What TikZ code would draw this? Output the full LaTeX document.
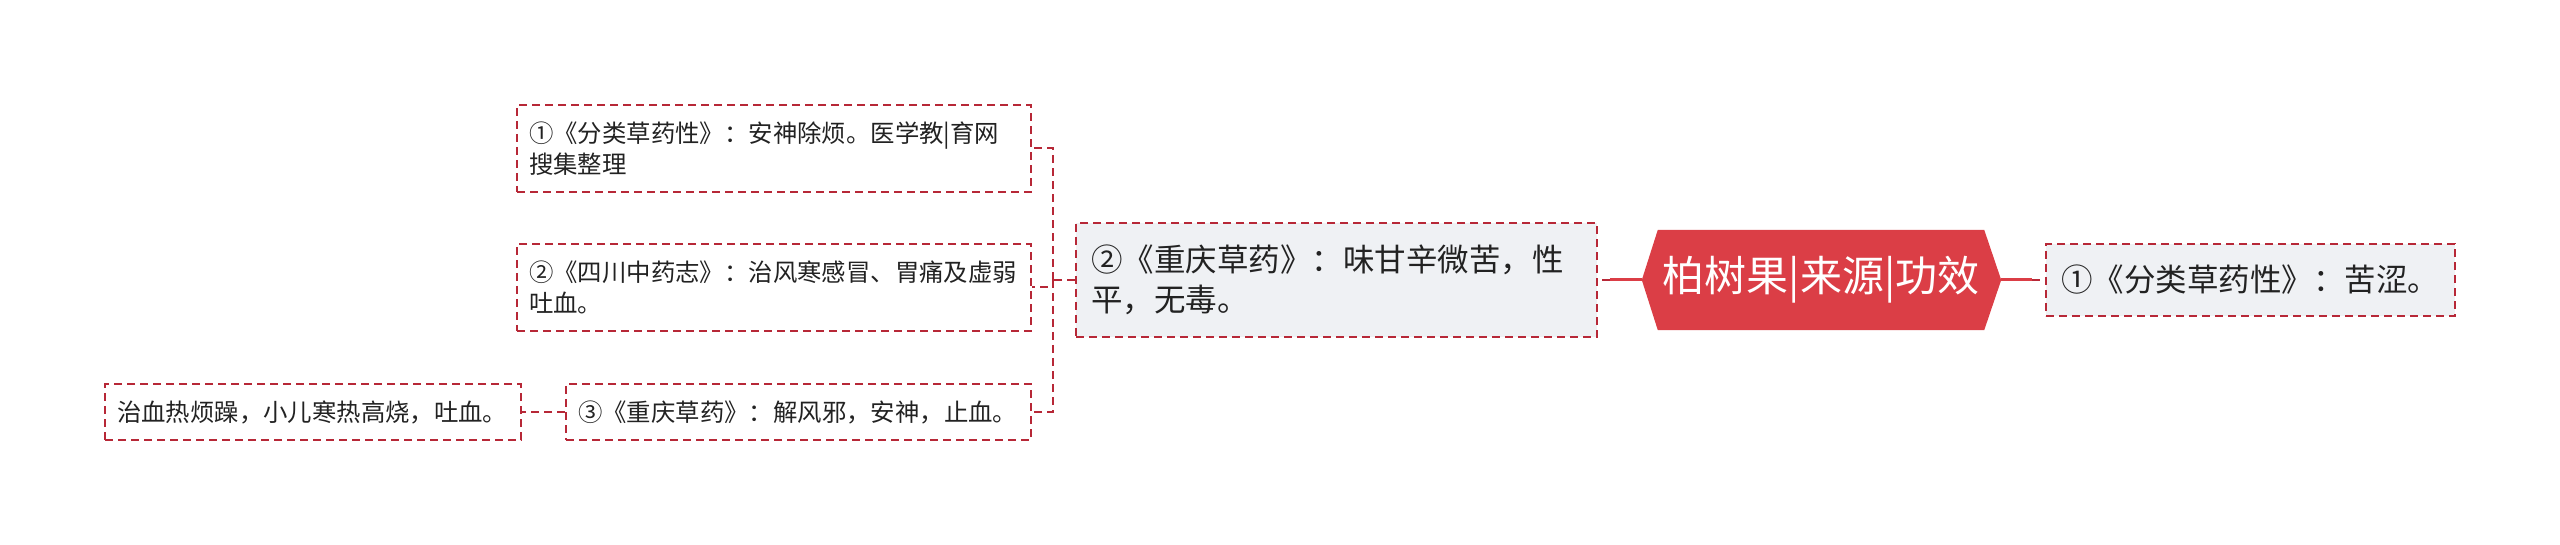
\documentclass[tikz,border=0pt]{standalone}
\usepackage{fontspec}
\usepackage{xcolor}
\usetikzlibrary{backgrounds}
\newfontfamily\cjk{Noto Sans CJK SC}
\definecolor{linered}{RGB}{183,40,55}
\definecolor{rootred}{RGB}{219,62,70}
\definecolor{boxgray}{RGB}{239,241,244}
\definecolor{textdark}{RGB}{34,34,34}

\begin{document}
\begin{tikzpicture}[
    x=1pt, y=-1pt,
    leaf node/.style={draw=linered, line width=2pt, dash pattern=on 8pt off 5pt,
      align=left, inner xsep=12pt, inner ysep=0pt, text=textdark,
      font=\cjk\fontsize{24.4}{31.5}\selectfont},
    mid node/.style={leaf node, fill=boxgray, inner xsep=15pt,
      font=\cjk\fontsize{31.5}{40}\selectfont},
    root node/.style={text=white, inner sep=0pt, minimum width=326pt,
      minimum height=100pt, font=\cjk\fontsize{42}{50}\selectfont},
    sub link/.style={draw=linered, line width=2pt, dash pattern=on 8pt off 5pt},
    root link/.style={draw=rootred, line width=3pt}
  ]
  \useasboundingbox (0,0) rectangle (2560,545);

  % Nodes
  \node[root node] (root) at (1821,280) {柏树果|来源|功效};
  \coordinate (rootL) at ([xshift=-16pt]root.west);
  \coordinate (rootR) at ([xshift=17pt]root.east);
  \begin{scope}[on background layer]
    \fill[rootred] (root.north west) -- (root.north east) -- (rootR)
      -- (root.south east) -- (root.south west) -- (rootL) -- cycle;
  \end{scope}

  \node[mid node, text width=379pt, minimum height=72pt] (F) at (2250.5,280)
    {①《分类草药性》：苦涩。};
  \node[mid node, text width=491pt, minimum height=114pt] (E) at (1336.5,280)
    {②《重庆草药》：味甘辛微苦，性\\平，无毒。};

  \node[leaf node, text width=490pt, minimum height=87pt] (A) at (774,148.5)
    {①《分类草药性》：安神除烦。医学教|育网\\搜集整理};
  \node[leaf node, text width=490pt, minimum height=87pt] (B) at (774,287.5)
    {②《四川中药志》：治风寒感冒、胃痛及虚弱\\吐血。};
  \node[leaf node, text width=441pt, minimum height=56pt] (C) at (798.5,412)
    {③《重庆草药》：解风邪，安神，止血。};
  \node[leaf node, text width=392pt, minimum height=56pt] (D) at (313,412)
    {治血热烦躁，小儿寒热高烧，吐血。};

  % Connectors
  \coordinate (fork) at (1053,280);
  \coordinate (rootLend) at (1610,280);
  \coordinate (rootRend) at (2032,280);
  \draw[root link] (rootL) -- (rootLend);
  \draw[sub link] (rootLend) -- (E.east);
  \draw[root link] (rootR) -- (rootRend);
  \draw[sub link] (rootRend) -- (F.west);
  \draw[sub link] (E.west) -- (fork);
  \draw[sub link] (fork) |- (A.east);
  \draw[sub link] (fork) |- (B.east);
  \draw[sub link] (fork) |- (C.east);
  \draw[sub link] (C.west) -- (D.east);
\end{tikzpicture}
\end{document}
